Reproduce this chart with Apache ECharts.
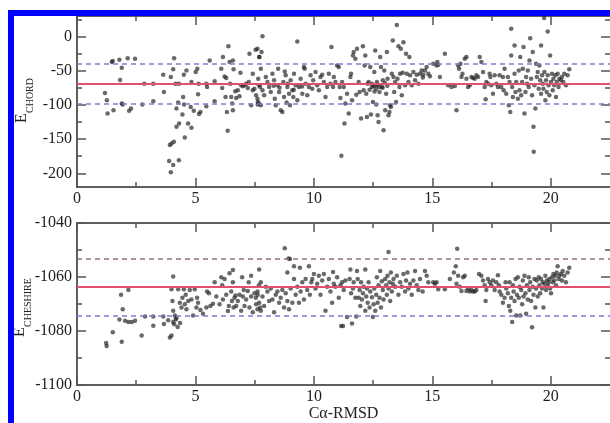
<!DOCTYPE html>
<html><head><meta charset="utf-8">
<script src="https://cdn.jsdelivr.net/npm/echarts@6/dist/echarts.min.js"></script>
<style>html,body{margin:0;padding:0;background:#fff}#c{width:610px;height:423px}</style>
</head><body><div id="c"></div>
<script>
// ---- data ----
const xTicks = [0, 5, 10, 15, 20];
const xMinor = [2.5, 7.5, 12.5, 17.5];
const chordTicks = [-200, -150, -100, -50, 0];
const chordMinor = [-175, -125, -75, -25, 25];
const cheshireTicks = [-1100, -1080, -1060, -1040];
const cheshireMinor = [-1090, -1070, -1050];
const chordMean = -69;
const chordBand = [-40, -98];
const cheshireMean = -1063.7;
const cheshireBand = [-1053.3, -1074.2];

const chordPoints = [
[1.18,-82.5],[1.26,-93.2],[1.29,-112.6],[1.54,-107.8],[1.47,-37.4],[1.51,-35.9],[1.79,-34],[1.89,-45.6],[2.14,-31.6],[2.45,-32.5],
[1.82,-63.6],[1.89,-98],[1.93,-99.5],[2.2,-108.7],[2.28,-105.3],[2.76,-99.5],[2.84,-68.9],[3.22,-68.9],[3.22,-94.7],[3.64,-55.8],
[3.67,-81],[3.96,-59.2],[4.06,-48],[4.1,-31.6],[4.16,-68.9],[4.3,-68.9],[4.2,-105.3],[4.27,-96.6],[4.48,-88.3],[4.45,-114],
[4.31,-127.2],[4.2,-132],[4.52,-99.5],[4.55,-147.6],[4.69,-127.2],[4.83,-133.5],[4.51,-55.8],[4.62,-49.5],[4.83,-66.5],[4.8,-102.9],
[4.93,-108.7],[5.01,-51.9],[5.08,-47.1],[5.13,-68.9],[5.11,-84.5],[5.15,-113.1],[5.21,-110.2],[5.46,-68.9],[5.49,-73.8],[5.46,-101.9],
[5.6,-35],[5.81,-65.5],[5.81,-94.7],[3.92,-158.7],[3.99,-156.3],[4.09,-153.9],[3.89,-182],[4.06,-187.9],[4.3,-181],[3.96,-198.5],
[6.09,-47.1],[6.16,-30.1],[6.13,-75.2],[6.23,-58.3],[6.3,-60.7],[6.27,-88.3],[6.33,-110.2],[6.36,-137.9],[6.39,-14.1],[6.44,-37.4],
[6.47,-68.9],[6.51,-88.3],[6.55,-98],[6.58,-35],[6.61,-48],[6.58,-107.8],[6.68,-80.1],[6.72,-89.8],[6.79,-78.6],[6.86,-87.4],
[6.9,-52.9],[6.93,-71.4],[7.0,-72.8],[7.07,-71.4],[7.14,-68.9],[7.21,-75.2],[7.25,-66.5],[7.28,-25.2],[7.35,-100.5],[7.42,-54.4],
[7.42,-78.6],[7.49,-76.2],[7.54,-19.4],[7.56,-85.9],[7.63,-95.6],[7.63,-99.5],[7.68,-71.4],[7.7,-30.1],
[7.62,-18],[7.79,-22.8],[7.83,0.5],[7.69,-30.1],[7.76,-47.1],[7.65,-61.7],[7.73,-73.8],[7.83,-78.6],[7.9,-85.9],[7.62,-90.8],
[7.69,-98],[7.76,-100.5],[7.97,-59.2],[8.04,-66.5],[8.11,-73.8],[8.18,-81.1],[8.25,-54.4],[8.32,-64.1],[8.35,-90.8],[8.39,-100.5],
[8.46,-71.4],[8.49,-47.1],[8.53,-81.1],[8.6,-107.8],[8.67,-110.2],[8.71,-66.5],[8.74,-88.3],[8.77,-51],[8.81,-56.8],[8.85,-96.6],
[8.88,-73.8],[8.95,-83.5],[8.99,-100.5],[9.02,-64.1],[9.09,-78.6],[9.13,-88.3],[9.16,-54.4],[9.23,-71.4],[9.3,-7.3],[9.3,-93.2],
[9.37,-73.8],[9.44,-61.7],[9.51,-83.5],[9.58,-44.7],[9.61,-47.1],[9.65,-68.9],[9.72,-85.9],[9.79,-73.8],[9.86,-56.8],[9.93,-76.2],
[9.97,-64.1],[10.07,-51.9],[10.14,-71.4],[10.21,-78.6],[10.28,-59.2],[10.35,-55.8],[10.42,-66.5],[10.49,-88.3],[10.56,-73.8],[10.63,-54.4],
[10.7,-68.9],[10.74,-15.5],[10.81,-73.8],[10.84,-59.2],[10.91,-66.5],[10.98,-42.2],[11.05,-44.7],[11.09,-73.8],[11.12,-89.8],[11.19,-66.5],
[11.26,-73.8],[11.29,-127.2],[11.33,-98],[11.4,-83.5],[11.47,-112.6],[11.54,-59.2],[11.57,-54.4],[11.61,-93.2],[11.65,-27.7],[11.68,-22.8],
[11.75,-32.5],[11.79,-85],[11.82,-18],[11.89,-66.5],[11.93,-81.1],[11.99,-119.9],[12.07,-14.1],[12.1,-78.6],[12.14,-42.2],[12.17,-27.7],
[12.21,-83.5],[12.24,-117.5],[12.27,-68.9],[12.31,-66.5],[12.38,-44.7],[12.41,-114.1],[12.45,-73.8],[12.49,-95.6],[12.55,-51.9],[12.59,-20.4],
[12.59,-71.4],[12.63,-99.5],[12.66,-66.5],[12.69,-115],[12.73,-124.8],[12.77,-81.1],[12.8,-30.1],[12.83,-44.7],[12.87,-73.8],[12.91,-64.1],
[12.94,-136.9],[12.97,-49.5],[13.01,-107.8],[13.05,-83.5],[13.08,-22.8],[13.11,-61.7],[13.15,-115],[13.19,-110.2],[13.22,-100.5],[13.25,-102.9],
[13.29,-54.4],[13.33,-5.8],[13.36,-59.2],[13.39,-81.1],[13.43,-66.5],[13.47,-95.6],[13.5,17],[13.53,-61.7],[13.57,-14.1],[13.61,-73.8],
[13.64,-54.4],[13.67,-18],[13.71,-85.9],[13.75,-52.9],[13.78,-8.3],[13.85,-71.4],[13.89,-25.2],[13.92,-54.4],[13.99,-66.5],[14.03,-30.1],
[14.06,-56.8],[14.13,-71.4],[14.2,-51.9],[14.27,-64.1],[14.34,-55.8],[14.41,-68.9],[14.48,-54.4],[14.55,-49.5],[14.62,-55.8],[14.69,-49.5],
[14.76,-44.7],[14.83,-54.4],[15.04,-39.8],[15.18,-42.2],[11.16,-174.3],
[12.45,-68.9],[12.52,-72.3],[12.63,-76.2],[12.69,-70.4],[12.77,-73.8],[12.9,-75],[13.0,-68],[13.1,-72],[12.35,-78],[12.56,-80.5],
[8.3,-72],[8.55,-75],[8.9,-69],[9.15,-78],[9.5,-73],[14.6,-60],[14.9,-58],
[15.21,-37.4],[15.25,-41.3],[15.32,-59.2],[15.53,-25.2],[15.67,-71.4],[15.81,-73.8],[15.95,-72.3],[16.02,-107.8],[16.09,-42.2],[16.13,-47.1],
[16.19,-39.8],[16.23,-59.2],[16.27,-54.4],[16.37,-32.5],[16.44,-30.1],[16.44,-61.7],[16.51,-73.8],[16.58,-71.4],[16.65,-59.2],[16.72,-60.7],
[16.79,-61.7],[16.86,-56.8],[16.93,-59.2],[17.0,-30.1],[17.07,-37.4],[17.14,-51.9],[17.21,-73.8],[17.25,-91.7],[17.28,-66.5],[17.35,-68.9],
[17.42,-54.4],[17.45,-59.2],[17.49,-71.4],[17.56,-83.5],[17.63,-56.8],[17.7,-68.9],[17.77,-73.8],[17.84,-56.8],[17.91,-73.8],[17.98,-59.2],
[18.01,-78.6],[18.05,-47.1],[18.12,-83.5],[18.19,-59.2],[18.23,-100.5],[18.26,-66.5],[18.29,-110.2],[18.33,11.2],[18.33,-27.7],[18.37,-73.8],
[18.4,-88.3],[18.47,-13.1],[18.47,-54.4],[18.51,-81.1],[18.54,-66.5],[18.61,-90.8],[18.65,-49.5],[18.68,-78.6],[18.71,-30.1],[18.75,-85.9],
[18.79,-66.5],[18.82,-47.1],[18.85,-15.5],[18.89,-112.6],[18.93,-81.1],[18.96,-59.2],[19.0,-68.9],[19.03,-49.5],[19.07,-73.8],[19.1,-35],
[19.13,-2.4],[19.17,-61.7],[19.21,-85.9],[19.24,-22.8],[19.27,-132],[19.28,-168.4],[19.31,-71.4],[19.35,-105.3],[19.38,-39.8],[19.41,-59.2],
[19.45,-51.9],[19.49,-76.2],[19.52,-42.2],[19.55,-64.1],[19.59,-13.1],[19.59,-83.5],[19.63,-56.8],[19.66,-68.9],[19.69,-76.2],[19.73,-51.9],
[19.77,-93.2],[19.8,-64.1],[19.83,-81.1],[19.87,7.3],[19.87,-56.8],[19.91,-71.4],[19.94,-85.9],[19.97,-27.7],[20.01,-66.5],[20.05,-54.4],
[20.08,-78.6],[20.11,-61.7],[20.15,-71.4],[20.19,-56.8],[20.22,-88.3],[20.25,-66.5],[20.29,-54.4],[20.33,-73.8],[20.36,-61.7],[20.43,-64.1],
[20.47,-59.2],[20.53,-66.5],[20.57,-54.4],[20.64,-71.4],[20.71,-56.8],[20.78,-48],[19.72,27]
];

const cheshirePoints = [
[1.23,-1084.4],[1.25,-1085.5],[1.51,-1080.4],[1.89,-1084],[2.73,-1081.6],[1.79,-1075.7],[1.93,-1071.9],[1.86,-1066.6],[2.17,-1064.8],[2.03,-1076.2],
[2.17,-1076.6],[2.31,-1076.6],[2.45,-1076.2],[2.87,-1074.6],[3.22,-1074.6],[3.22,-1078],[3.64,-1074.6],[3.67,-1077.4],[3.85,-1076],[3.92,-1082.4],
[3.99,-1081.6],[4.06,-1059.8],[3.99,-1064.5],[4.03,-1068.9],[4.06,-1072.5],[4.13,-1074.2],[4.17,-1075.7],[4.06,-1076.6],[4.2,-1075.1],[4.27,-1064.5],
[4.34,-1069.5],[4.41,-1071.3],[4.45,-1067.7],[4.51,-1064.5],[4.55,-1070.1],[4.59,-1066.6],[4.62,-1071.9],[4.69,-1068.9],[4.76,-1064.8],[4.83,-1068.3],
[4.9,-1074.2],[4.97,-1064.5],[5.04,-1071.3],[5.07,-1067.7],[5.11,-1069.5],[5.21,-1072.2],[5.32,-1073.6],[5.46,-1071.3],[5.49,-1065.4],[5.57,-1066],
[5.63,-1070.7],[5.74,-1069.9],[5.81,-1061.9],[5.88,-1067.2],[6.02,-1070.1],[6.09,-1060.1],[6.13,-1063],[6.16,-1068.3],[6.23,-1060.7],[6.3,-1066.6],
[6.37,-1072.6],[6.41,-1070.7],[6.44,-1058.6],[6.51,-1065.4],[6.54,-1068.9],[6.58,-1057.4],[6.58,-1061.9],[6.61,-1071.3],[6.65,-1067.7],[6.69,-1066.8],
[6.72,-1070.7],[6.79,-1068.9],[6.86,-1066.6],[6.93,-1072.5],[6.97,-1060.1],[7.0,-1067.2],[7.04,-1064.8],[7.07,-1070.7],[7.14,-1068.3],[7.21,-1065.2],
[7.25,-1061.9],[7.28,-1071.3],[7.35,-1059.5],[7.35,-1067.2],[7.42,-1073],[7.49,-1066],[7.56,-1070.1],[7.63,-1066.6],[7.68,-1063],[7.73,-1071.3],
[4.1,-1077.5],[4.25,-1078.5],[4.35,-1077],
[7.69,-1057.2],[7.76,-1061.9],[7.62,-1065.4],[7.55,-1067.7],[7.69,-1069.5],[7.62,-1071.9],[7.76,-1072.5],[7.83,-1067.2],[7.9,-1070.7],[7.97,-1063.6],
[8.04,-1065.4],[8.11,-1068.9],[8.18,-1064.2],[8.25,-1068.3],[8.32,-1073],[8.39,-1066.6],[8.46,-1065.4],[8.53,-1069.5],[8.6,-1067.7],[8.67,-1064.8],
[8.74,-1071.3],[8.81,-1066],[8.88,-1058.3],[8.88,-1068.9],[8.95,-1071.9],[9.02,-1064.2],[9.09,-1069.5],[9.16,-1056],[9.16,-1060.7],[9.23,-1066.6],
[9.3,-1063.6],[9.37,-1069.5],[9.41,-1056.6],[9.44,-1065.4],[9.51,-1061.9],[9.58,-1068.3],[9.65,-1060.7],[9.72,-1064.8],[9.79,-1056],[9.83,-1066.6],
[9.89,-1061.9],[9.93,-1060.7],[10.0,-1058.9],[10.07,-1064.2],[10.14,-1062.5],[10.21,-1059.5],[10.28,-1066.6],[10.35,-1061.3],[10.42,-1058.9],[10.49,-1072.5],
[10.56,-1063.6],[10.63,-1060.7],[10.7,-1065.4],[10.77,-1069.5],[10.81,-1058.1],[10.84,-1062.5],[10.91,-1063.6],[10.98,-1060.1],[11.05,-1067.7],[11.12,-1063],
[11.19,-1061.9],[11.26,-1064.8],[11.33,-1061.3],[11.4,-1074.8],[11.15,-1078.1],[11.23,-1078.1],[11.51,-1060.7],[11.54,-1057.2],[11.57,-1066],[11.61,-1077.2],
[11.65,-1064.2],[11.68,-1061.9],[11.75,-1067.7],[11.79,-1074.6],[11.82,-1057.8],[11.85,-1060.7],[11.89,-1067.7],[11.93,-1064.8],[11.96,-1070.7],[11.99,-1061.9],
[12.03,-1068.3],[12.07,-1066],[12.1,-1063.6],[12.17,-1057.2],[12.17,-1072.5],[12.21,-1067.2],[12.24,-1064.2],[12.27,-1069.5],[12.31,-1061.9],[12.35,-1071.3],
[12.38,-1065.4],[12.45,-1067.5],[12.49,-1074.8],[12.52,-1070.1],[12.55,-1064.2],[12.59,-1072.5],[12.63,-1066.6],[12.66,-1060.1],[12.69,-1069.5],[12.73,-1063],
[12.77,-1067.7],[12.8,-1057.8],[12.83,-1071.3],[12.87,-1061.6],[12.91,-1064.8],[12.94,-1068.3],[13.01,-1060.7],[13.05,-1063],[13.08,-1066.6],[13.11,-1059.5],
[13.15,-1064.2],[13.19,-1061.9],[13.22,-1068.9],[13.25,-1058.3],[13.29,-1065.4],[13.33,-1062.5],[13.36,-1060.7],[13.43,-1063.6],[13.5,-1059.5],[13.57,-1066.6],
[13.64,-1061.9],[13.71,-1063.6],[13.78,-1058.9],[13.85,-1065.4],[13.89,-1061.3],[13.95,-1058.3],[13.99,-1064.2],[14.06,-1062.5],[14.13,-1066.6],[14.2,-1061.3],
[14.27,-1057.8],[14.34,-1063],[14.41,-1064.8],[14.48,-1060.7],[14.59,-1065.4],[14.69,-1057.8],[14.76,-1059.5],[14.83,-1061.9],[15.04,-1061.9],
[8.77,-1049.3],[8.93,-1053.1],[8.99,-1053.3],[13.15,-1050.7],
[16.05,-1049.5],[15.99,-1056],[15.91,-1058.3],[15.18,-1061.9],[15.11,-1062.5],[15.25,-1064.5],[15.53,-1064.5],[15.74,-1060.7],[16.02,-1062.5],[16.09,-1059.5],
[16.16,-1063.6],[16.23,-1065.2],[16.3,-1060.1],[16.37,-1059.5],[16.44,-1065.2],[16.51,-1064.2],[16.58,-1065.4],[16.65,-1064.8],[16.72,-1065.4],[16.79,-1065.4],
[16.86,-1064.8],[16.97,-1058.9],[17.07,-1059.5],[17.14,-1061.3],[17.21,-1063],[17.25,-1068.9],[17.28,-1064.8],[17.35,-1060.7],[17.42,-1061.9],[17.49,-1063],
[17.56,-1061.3],[17.63,-1064.8],[17.7,-1061.9],[17.77,-1059.3],[17.81,-1063],[17.84,-1065.4],[17.91,-1066.6],[17.98,-1069.5],[18.05,-1067.7],[18.09,-1061.9],
[18.12,-1064.2],[18.19,-1066],[18.23,-1070.7],[18.26,-1061.9],[18.29,-1072.5],[18.33,-1067.7],[18.37,-1076.6],[18.4,-1063],[18.43,-1065.4],[18.47,-1068.9],
[18.51,-1060.7],[18.54,-1074.2],[18.57,-1066.6],[18.61,-1060.1],[18.65,-1067.7],[18.68,-1063.6],[18.71,-1074.2],[18.75,-1064.8],[18.79,-1070.1],[18.82,-1061.3],
[18.85,-1067.2],[18.89,-1059.5],[18.93,-1066],[18.96,-1073.6],[18.99,-1063],[19.03,-1068.3],[19.07,-1060.1],[19.1,-1064.8],[19.13,-1061.9],[19.17,-1068.9],
[19.21,-1078.6],[19.24,-1063.6],[19.27,-1066.6],[19.31,-1060.7],[19.35,-1071.3],[19.38,-1064.2],[19.41,-1061.3],[19.45,-1067.2],[19.49,-1060.1],[19.52,-1063],
[19.55,-1066],[19.59,-1060.7],[19.63,-1064.2],[19.66,-1061.9],[19.69,-1071.3],[19.73,-1062.5],[19.77,-1059.5],[19.8,-1064.8],[19.83,-1061.3],[19.87,-1063],
[19.91,-1061.9],[19.94,-1060.7],[19.97,-1064.2],[20.01,-1066],[20.05,-1060.1],[20.08,-1061.9],[20.11,-1058.9],[20.15,-1061.3],[20.19,-1059.5],[20.22,-1063],
[20.25,-1058.3],[20.29,-1056],[20.33,-1060.7],[20.36,-1059.5],[20.43,-1058.9],[20.47,-1061.3],[20.5,-1057.8],[20.57,-1059.5],[20.64,-1061.9],[20.71,-1058.3],
[20.78,-1056.6]
];

// ---- chart ----
const AX = '#555';
const FONT = 'Liberation Serif';
const lbl = {fontFamily: FONT, fontSize: 16, color: '#222', formatter: v => String(v)};

function xAxis(grid, pos, ticks, len, showLabel, extra) {
  return Object.assign({
    type: 'value', gridIndex: grid, position: pos, min: 0, max: 22.5,
    axisLine: {show: true, onZero: false, lineStyle: {color: AX, width: 1.5}},
    axisTick: {show: true, inside: true, length: len, customValues: ticks, lineStyle: {color: AX, width: 1.5}},
    axisLabel: Object.assign({show: showLabel, customValues: xTicks, margin: 4}, lbl),
    splitLine: {show: false}
  }, extra || {});
}
function yAxis(grid, pos, min, max, ticks, labelVals, len, showLabel) {
  return {
    type: 'value', gridIndex: grid, position: pos, min: min, max: max,
    axisLine: {show: pos === 'left', onZero: false, lineStyle: {color: AX, width: 1.5}},
    axisTick: {show: true, inside: true, length: len, customValues: ticks, lineStyle: {color: AX, width: 1.5}},
    axisLabel: Object.assign({show: showLabel, customValues: labelVals, margin: 5}, lbl),
    splitLine: {show: false}
  };
}

const xAxes = [
  xAxis(0, 'bottom', xTicks, 9, true),
  xAxis(0, 'bottom', xMinor, 5, false),
  xAxis(0, 'top', xTicks, 9, false),
  xAxis(0, 'top', xMinor, 5, false),
  xAxis(1, 'bottom', xTicks, 9, true, {name: 'Cα-RMSD', nameLocation: 'middle', nameGap: 20,
        nameTextStyle: {fontFamily: FONT, fontSize: 16, color: '#222'}}),
  xAxis(1, 'bottom', xMinor, 5, false),
  xAxis(1, 'top', xTicks, 9, false),
  xAxis(1, 'top', xMinor, 5, false)
];
const yAxes = [
  yAxis(0, 'left', -220, 30, chordTicks, chordTicks, 9, true),
  yAxis(0, 'left', -220, 30, chordMinor, chordTicks, 5, false),
  yAxis(0, 'right', -220, 30, chordTicks, chordTicks, 9, false),
  yAxis(0, 'right', -220, 30, chordMinor, chordTicks, 5, false),
  yAxis(1, 'left', -1100, -1040, cheshireTicks, cheshireTicks, 9, true),
  yAxis(1, 'left', -1100, -1040, cheshireMinor, cheshireTicks, 5, false),
  yAxis(1, 'right', -1100, -1040, cheshireTicks, cheshireTicks, 9, false),
  yAxis(1, 'right', -1100, -1040, cheshireMinor, cheshireTicks, 5, false)
];

const RED = '#e2506c', BLUE = '#7c7cd4', BROWN = '#94707e';
function refLines(xi, yi, mean, band, upperColor) {
  return {
    type: 'line', xAxisIndex: xi, yAxisIndex: yi, data: [], z: 1, silent: true,
    markLine: {
      symbol: 'none', silent: true, animation: false, label: {show: false},
      data: [
        {yAxis: mean, lineStyle: {color: RED, width: 2, type: 'solid'}},
        {yAxis: band[0], lineStyle: {color: upperColor, width: 1.5, type: [5, 4]}},
        {yAxis: band[1], lineStyle: {color: BLUE, width: 1.5, type: [5, 4]}}
      ]
    }
  };
}
const dot = {color: 'rgba(35,35,35,0.85)'};

const chart = echarts.init(document.getElementById('c'), null, {renderer: 'canvas'});
chart.setOption({
  animation: false,
  backgroundColor: '#fff',
  grid: [
    {left: 77, right: -2, top: 16, height: 171},
    {left: 77, right: -2, top: 223, height: 170}
  ],
  xAxis: xAxes,
  yAxis: yAxes,
  series: [
    refLines(0, 0, chordMean, chordBand, BLUE),
    refLines(4, 4, cheshireMean, cheshireBand, BROWN),
    {type: 'scatter', xAxisIndex: 0, yAxisIndex: 0, data: chordPoints, symbolSize: 4.5, itemStyle: dot, z: 3},
    {type: 'scatter', xAxisIndex: 4, yAxisIndex: 4, data: cheshirePoints, symbolSize: 4.5, itemStyle: dot, z: 3}
  ],
  graphic: [
    {type: 'group', x: 22, y: 123, rotation: Math.PI / 2, children: [
      {type: 'text', x: 0, y: 0, style: {text: 'E', font: '16px "Liberation Serif"', fill: '#222', textVerticalAlign: 'middle'}},
      {type: 'text', x: 10, y: 8, style: {text: 'CHORD', font: '10px "Liberation Serif"', fill: '#222', textVerticalAlign: 'middle'}}
    ]},
    {type: 'group', x: 20, y: 337, rotation: Math.PI / 2, children: [
      {type: 'text', x: 0, y: 0, style: {text: 'E', font: '16px "Liberation Serif"', fill: '#222', textVerticalAlign: 'middle'}},
      {type: 'text', x: 10, y: 8, style: {text: 'CHESHIRE', font: '10px "Liberation Serif"', fill: '#222', textVerticalAlign: 'middle'}}
    ]},
    {type: 'rect', z: 100, shape: {x: 8, y: 10, width: 6, height: 413}, style: {fill: '#0000ff'}},
    {type: 'rect', z: 100, shape: {x: 8, y: 10, width: 602, height: 6}, style: {fill: '#0000ff'}}
  ]
});
</script>
</body></html>
